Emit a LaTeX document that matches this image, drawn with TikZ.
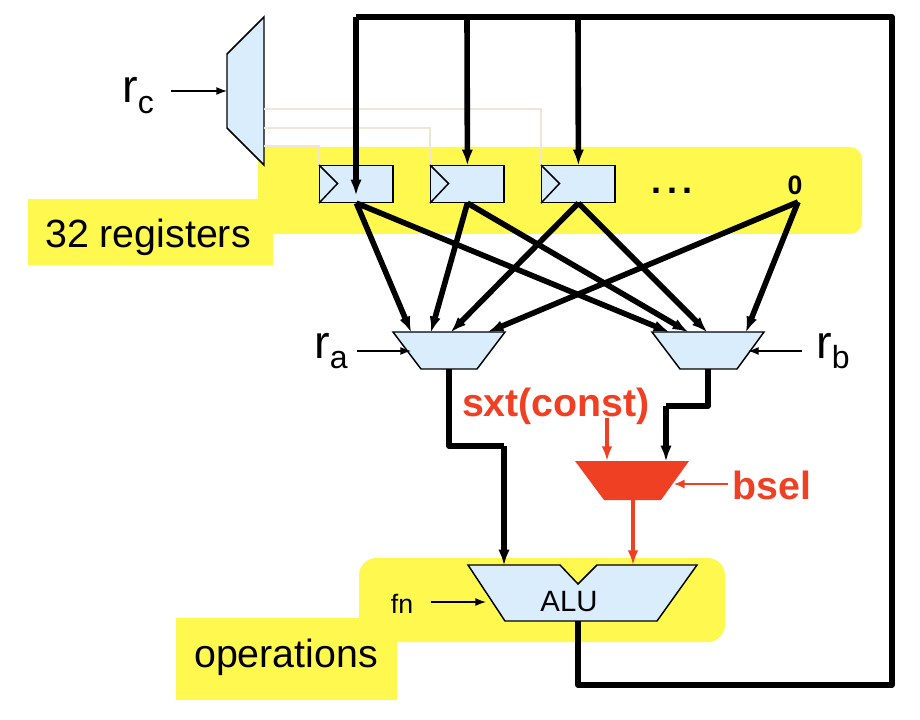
\documentclass[tikz,border=0pt]{standalone}
\usepackage{fontspec}
\setmainfont{Liberation Sans}
\usepackage{xcolor}
\usetikzlibrary{arrows.meta,positioning,calc}
\definecolor{muxblue}{HTML}{D9EDFC}
\definecolor{marker}{HTML}{FFF84F}
\definecolor{ctlred}{HTML}{EF4023}
\definecolor{selwire}{HTML}{F0E6D8}
\newcommand{\portsub}[1]{\raisebox{-8pt}{\fontsize{24}{26}\selectfont #1}}

\begin{document}
\begin{tikzpicture}[
  x=0.75pt,y=-0.75pt,
  mux/.style={draw=black,fill=muxblue,line width=1.1pt,line join=miter},
  reg/.style={mux,minimum width=55pt,minimum height=27.5pt,inner sep=0pt,anchor=north west},
  hl/.style={fill=marker,draw=none},
  lab/.style={font=\fontsize{29.5}{32}\selectfont,inner sep=0pt},
  sig/.style={font=\fontsize{35}{38}\selectfont,inner sep=0pt,anchor=base west},
  small/.style={font=\fontsize{20}{22}\selectfont,inner sep=0pt},
  ctl/.style={font=\fontsize{29.5}{32}\selectfont\bfseries,text=ctlred,inner sep=0pt},
  bus/.style={line width=4.2pt,line join=round,draw=black},
  busarr/.style={bus,-{Latex[length=12pt,width=8.5pt]},shorten >=-0.5pt},
  thin/.style={line width=1pt,-{Latex[length=8pt,width=6pt]}},
  redbus/.style={line width=3pt,draw=ctlred,-{Latex[length=11pt,width=8pt]}},
  redthin/.style={line width=1.3pt,draw=ctlred,-{Latex[length=8pt,width=7pt]}},
  sel/.style={line width=0.9pt,draw=selwire}
]
\useasboundingbox (0,0) rectangle (920,720);
% yellow highlights
\fill[hl,rounded corners=9pt] (258,147) rectangle (862,234);
\fill[hl] (258,147) rectangle (280,234);
\fill[hl] (28,199) rectangle (273,265);
\fill[hl,rounded corners=13pt] (359,558) rectangle (725,642);
\fill[hl] (176,618) rectangle (397,700);
% register select mux
\draw[mux] (227,54) -- (264,17) -- (264,165) -- (227,128) -- cycle;
\coordinate (cin) at (227,91);
\coordinate (sel1) at (264,146);
\coordinate (sel2) at (264,128);
\coordinate (sel3) at (264,109);
% registers
\node[reg] (r1) at (319,165) {};
\node[reg] (r2) at (430,165) {};
\node[reg] (r3) at (541,165) {};
\draw[sel] (sel1) -| (r1.north west);
\draw[sel] (sel2) -| (r2.north west);
\draw[sel] (sel3) -| (r3.north west);
\foreach \r in {r1,r2,r3}
  \draw[line width=1.1pt] (\r.north west) -- ++(18.5,18.5) -- (\r.south west);
\node[font=\bfseries\fontsize{27}{29}\selectfont,inner sep=0pt] (dots) at (672,191) {.\hspace{4pt}.\hspace{4pt}.};
\node[font=\bfseries\fontsize{20}{22}\selectfont,inner sep=0pt] (zero) at (795,185) {0};
\coordinate (z) at (798,202);
% operand muxes
\draw[mux] (393,332) -- (505,332) -- (477,369) -- (421,369) -- cycle;
\draw[mux] (652,332) -- (764,332) -- (737,369) -- (680,369) -- cycle;
\coordinate (aout) at (449,369);
\coordinate (bout) at (708,369);
\draw[busarr] (r1.south) -- (411,332);
\draw[busarr] (r2.south) -- (431,332);
\draw[busarr] (r3.south) -- (451,332);
\draw[busarr] (z) -- (488,332);
\draw[busarr] (r1.south) -- (669,332);
\draw[busarr] (r2.south) -- (688,332);
\draw[busarr] (r3.south) -- (707,332);
\draw[busarr] (z) -- (746,332);
% bsel mux
\fill[ctlred] (575,461) -- (689,461) -- (661,500) -- (604,500) -- cycle;
% alu
\draw[mux] (468,565) -- (560,565) -- (578,584) -- (597,565) -- (697,565) -- (657,621) -- (505,621) -- cycle;
\node[inner sep=0pt,font=\fontsize{22}{24}\selectfont] (alu) at (569,602) {ALU};
\coordinate (aluout) at (578,621);
% wires
\draw[bus] (aluout) -- (578,685) -- (892,685) -- (892,17) -- (356,17);
\draw[busarr] (356,17) -- (356,195);
\draw[busarr] (467,17) -- (r2.north);
\draw[busarr] (578,17) -- (r3.north);
\draw[bus] (aout) -- (449,446) -- (504,446);
\draw[busarr] (504,446) -- (504,565);
\draw[bus] (bout) -- (708,406) -- (666,406);
\draw[busarr] (666,406) -- (666,461);
\draw[redbus] (633,500) -- (633,565);
% labels
\node[lab] (regs) at (148,237) {32 registers};
\node[lab] (ops) at (286,657) {operations};
\node[sig] (rc) at (122,103) {r\portsub{c}};
\node[sig] (ra) at (314,358) {r\portsub{a}};
\node[sig] (rb) at (816,358) {r\portsub{b}};
\node[small] (fn) at (402,604) {fn};
\node[ctl] (sxt) at (556,406) {sxt(const)};
\node[ctl] (bsel) at (772,485) {bsel};
\draw[thin] (171,91) -- (cin);
\draw[thin] (357,351) -- (411,351);
\draw[thin] (802,351) -- (748,351);
\draw[thin] (431,602) -- (486,602);
\draw[redbus] (607,418) -- (607,461);
\draw[redthin] (728,484) -- (674,484);
\end{tikzpicture}
\end{document}
